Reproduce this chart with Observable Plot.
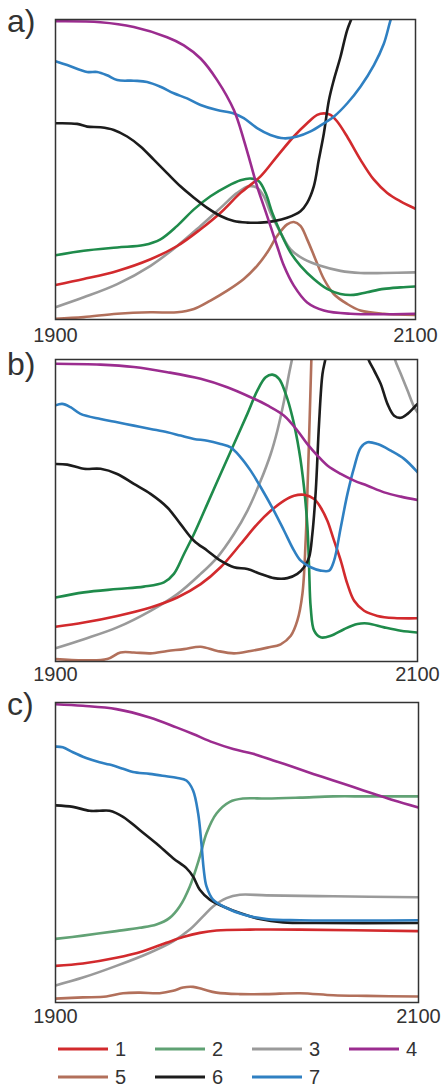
<!DOCTYPE html>
<html>
<head>
<meta charset="utf-8">
<script src="https://cdn.jsdelivr.net/npm/d3@7"></script>
<script src="https://cdn.jsdelivr.net/npm/@observablehq/plot@0.6"></script>
<style>
  html, body { margin: 0; padding: 0; background: #fff; }
  #chart { position: relative; width: 448px; height: 1087px; background: #fff;
           font-family: "Liberation Sans", Arial, sans-serif; color: #333; }
  .panel { position: absolute; left: 0; }
  .tag { position: absolute; left: 7px; font-size: 32px; line-height: 1; color: #333; }
  .legend { position: absolute; left: 58px; top: 1035px; display: grid;
            grid-template-columns: repeat(4, 97px); grid-auto-rows: 28px; }
  .legend .item { display: flex; align-items: center; font-size: 20px; }
  .legend svg { display: block; margin-right: 7px; }
</style>
</head>
<body>
<div id="chart"></div>
<script>
// Series ids and colours
const seriesNames = ["1", "2", "3", "4", "5", "6", "7"];
const colorsAB = ["#d22a2d", "#1f8b4b", "#9a9a9a", "#9b2c8f", "#b2705b", "#1c1c1c", "#2f80c2"];
const colorsC  = ["#d22a2d", "#62a275", "#9a9a9a", "#9b2c8f", "#b2705b", "#1c1c1c", "#2f80c2"];
const legendColors = ["#d22a2d", "#5fa173", "#9a9a9a", "#9b2c8f", "#b2705b", "#1c1c1c", "#2f80c2"];
const xTicks = [1900, 2100];
const panelTags = ["a)", "b)", "c)"];
// Lines are drawn in this order (last on top)
const drawOrder = ["5", "3", "2", "1", "6", "7", "4"];

// ---- panel a: [year, value] ----
const a1 = [[1900,11.5],[1915.7,13.5],[1934.3,16.2],[1952.8,20.1],[1967.6,24.5],[1980.6,30.1],[1991.7,35.6],[2002.8,42.2],[2013.9,47.7],[2023.1,54.4],[2032.4,61.0],[2039.8,65.4],[2045.4,68.2],[2049.1,68.7],[2052.8,68.2],[2056.5,66.0],[2062,61.0],[2069.4,53.3],[2076.9,46.6],[2084.3,42.2],[2091.7,39.4],[2100,36.9]];
const a2 = [[1900,21.4],[1915.7,22.9],[1934.3,24.0],[1949.1,24.8],[1958.3,26.7],[1967.6,31.2],[1976.9,36.7],[1986.1,41.1],[1995.4,44.4],[2002.8,46.4],[2008.3,47.0],[2013,46.1],[2016.7,42.2],[2020.4,35.6],[2025,29.0],[2030.6,22.3],[2036.1,17.9],[2043.5,13.5],[2050.9,10.2],[2058.3,8.5],[2065.7,8.2],[2073.1,9.1],[2082.4,10.2],[2091.7,10.7],[2100,11.0]];
const a3 = [[1900,4.1],[1915.7,7.4],[1934.3,11.8],[1952.8,17.9],[1967.6,24.5],[1980.6,31.2],[1991.7,37.2],[2000.9,42.2],[2007.4,44.4],[2012,43.9],[2015.7,41.1],[2019.4,35.6],[2025,29.0],[2030.6,23.4],[2038,20.1],[2047.2,17.9],[2058.3,16.2],[2069.4,15.5],[2082.4,15.5],[2100,15.7]];
const a4 = [[1900,99.4],[1925,99.1],[1943.5,97.5],[1962,94.1],[1971.3,91.4],[1980.6,87.0],[1989.8,79.8],[1999.1,69.8],[2004.6,59.9],[2008.3,52.2],[2012,44.4],[2015.7,37.8],[2019.4,31.2],[2023.1,24.5],[2026.9,17.9],[2032.4,11.3],[2039.8,5.7],[2049.1,3.0],[2063.9,1.9],[2100,1.9]];
const a5 = [[1900,0.2],[1915.7,0.8],[1934.3,1.9],[1952.8,2.4],[1967.6,2.4],[1976.9,3.5],[1986.1,6.3],[1995.4,9.6],[2004.6,13.5],[2012,17.9],[2017.6,22.3],[2023.1,27.8],[2028.7,31.7],[2032.4,32.5],[2036.1,31.2],[2039.8,26.7],[2044.4,20.1],[2049.1,13.5],[2054.6,8.5],[2062,5.2],[2069.4,3.0],[2082.4,1.9],[2100,1.5]];
const a6 = [[1900,65.4],[1912,65.2],[1917.6,64.3],[1925,64.1],[1932.4,63.2],[1939.8,61.0],[1947.2,57.7],[1954.6,53.3],[1962,48.8],[1969.4,44.4],[1976.9,40.6],[1984.3,37.2],[1991.7,34.5],[1999.1,32.8],[2006.5,32.3],[2013.9,32.3],[2021.3,32.8],[2028.7,33.9],[2036.1,36.1],[2039.8,38.9],[2043.5,44.4],[2046.3,53.3],[2049.1,62.1],[2051.9,73.1],[2054.6,79.8],[2058.3,87.5],[2062,96.4],[2064.8,100.8],[2068,106]];
const a7 = [[1900,86.1],[1906.5,84.8],[1917.6,82.5],[1923.1,82.5],[1928.7,81.4],[1934.3,79.8],[1943.5,79.6],[1950.9,79.2],[1958.3,77.6],[1965.7,75.4],[1973.1,73.7],[1980.6,71.5],[1989.8,69.8],[1999.1,68.7],[2004.6,67.1],[2012,63.8],[2019.4,61.5],[2026.9,60.4],[2034.3,61.0],[2041.7,62.7],[2049.1,65.4],[2054.6,67.6],[2062,72.0],[2069.4,77.6],[2076.9,84.8],[2082.4,91.9],[2086.1,99.7],[2090,107]];

// ---- panel b ----
const b1 = [[1900,11.5],[1915.7,12.9],[1934.1,15.1],[1952.5,17.9],[1967.3,21.2],[1980.2,25.6],[1991.2,31.2],[2002.3,38.9],[2011.5,45.5],[2018.9,49.9],[2026.3,53.3],[2031.8,54.9],[2037.3,55.2],[2042.9,53.8],[2046.5,51.0],[2050.2,46.6],[2053.9,40.0],[2057.6,33.4],[2061.3,25.6],[2065,20.1],[2070.5,16.8],[2077.9,15.1],[2087.1,14.4],[2100,14.3]];
const b2 = [[1900,21.2],[1915.7,22.9],[1934.1,24.0],[1948.8,24.8],[1959.9,26.2],[1965.4,29.0],[1971,35.6],[1976.5,42.2],[1983.9,52.2],[1991.2,62.1],[1998.6,72.0],[2006,82.0],[2011.5,89.7],[2016.1,94.1],[2019.8,95.0],[2023.5,93.6],[2027.2,88.6],[2030.9,80.9],[2034.6,69.8],[2037.3,57.7],[2039.2,44.4],[2040.1,31.2],[2041,17.9],[2042.9,10.2],[2046.5,8.0],[2052.1,8.5],[2059.4,10.7],[2066.8,12.4],[2072.4,12.6],[2081.6,11.3],[2090.8,10.2],[2100,9.6]];
const b3 = [[1900,4.4],[1915.7,7.4],[1934.1,11.3],[1952.5,16.8],[1967.3,22.3],[1980.2,29.0],[1989.4,34.5],[1998.6,42.2],[2006,49.9],[2013.4,59.9],[2018.9,68.7],[2022.6,76.5],[2026.3,86.4],[2029,95.2],[2030.9,100.8],[2034,112],[2060,180],[2084,112],[2087.1,100.8],[2090.8,95.2],[2094.5,89.7],[2098.2,84.2],[2100,82.5]];
const b4 = [[1900,98.6],[1924.9,98.3],[1943.3,97.5],[1961.8,95.8],[1980.2,93.6],[1994.9,90.8],[2007.8,87.5],[2017.1,84.8],[2026.3,81.4],[2033.6,76.5],[2039.2,72.0],[2044.7,68.2],[2050.2,64.9],[2057.6,62.1],[2065,59.9],[2072.4,58.2],[2081.6,56.0],[2090.8,54.6],[2100,53.5]];
const b5 = [[1900,0.8],[1915.7,0.4],[1928.6,0.8],[1935.9,3.0],[1943.3,3.0],[1952.5,2.7],[1961.8,3.5],[1971,4.1],[1980.2,4.9],[1989.4,3.5],[1998.6,2.7],[2007.8,3.5],[2017.1,4.6],[2024.4,5.7],[2030,8.5],[2033.6,13.5],[2036.4,22.3],[2038.2,40.0],[2039.5,62.1],[2040.6,84.2],[2041.4,100.8],[2042,115]];
const b6 = [[1900,65.4],[1906.5,65.2],[1915.7,63.8],[1924.9,63.8],[1934.1,62.1],[1943.3,58.8],[1952.5,55.5],[1961.8,51.0],[1969.1,45.5],[1976.5,40.0],[1983.9,36.7],[1991.2,33.4],[1998.6,31.2],[2006,30.6],[2013.4,29.0],[2020.7,27.6],[2028.1,27.6],[2033.6,29.0],[2037.3,31.2],[2040.1,34.5],[2041.9,42.2],[2043.8,56.6],[2045.6,78.7],[2047.5,95.2],[2049.3,100.8],[2051,110],[2060,140],[2070,110],[2072.4,100.8],[2076,96.4],[2079.7,91.9],[2083.4,85.3],[2087.1,81.4],[2090.8,80.7],[2094.5,82.0],[2098.2,84.2],[2100,85.3]];
const b7 = [[1900,84.8],[1903.7,85.3],[1908.3,84.2],[1913.8,82.0],[1924.9,80.3],[1934.1,79.2],[1943.3,78.1],[1952.5,77.0],[1961.8,75.9],[1969.1,74.8],[1976.5,73.7],[1983.9,73.1],[1991.2,72.0],[1996.8,70.9],[2002.3,67.6],[2007.8,63.2],[2013.4,57.7],[2020.7,49.9],[2026.3,43.3],[2031.8,36.7],[2035.5,33.4],[2041,31.2],[2046.5,30.1],[2051.2,30.1],[2053.9,33.4],[2057.6,44.4],[2061.3,55.5],[2065,64.3],[2068.7,70.9],[2072.4,72.6],[2077.9,72.0],[2085.3,69.8],[2092.6,67.1],[2100,62.7]];

// ---- panel c ----
const c1 = [[1900,12.2],[1915.1,13.0],[1933.5,14.9],[1948.2,17.1],[1961.1,19.9],[1970.3,21.8],[1979.5,23.2],[1988.7,24.0],[2007.1,24.3],[2034.7,24.3],[2100,23.8]];
const c2 = [[1900,21.2],[1915.1,22.3],[1933.5,23.8],[1946.4,24.9],[1955.6,26.0],[1962.9,28.2],[1968.4,32.0],[1974,38.7],[1979.5,48.6],[1983.2,56.4],[1988.7,63.0],[1996,66.9],[2003.4,68.0],[2016.3,68.0],[2034.7,68.3],[2053.1,68.7],[2071.5,68.7],[2100,68.7]];
const c3 = [[1900,5.7],[1915.1,8.3],[1933.5,12.2],[1951.9,16.6],[1964.8,20.4],[1974,24.3],[1981.3,28.7],[1986.8,32.0],[1994.2,34.8],[2001.6,35.9],[2016.3,35.7],[2053.1,35.4],[2100,35.1]];
const c4 = [[1900,99.4],[1915.1,98.9],[1933.5,97.8],[1951.9,95.0],[1966.6,91.7],[1975.8,89.5],[1986.8,86.7],[1997.9,84.5],[2008.9,82.9],[2020,80.7],[2031,78.5],[2042,76.2],[2053.1,74.0],[2064.1,71.8],[2075.2,69.6],[2086.2,67.4],[2100,65.0]];
const c5 = [[1900,1.3],[1915.1,1.7],[1928,2.0],[1937.2,3.1],[1946.4,3.3],[1957.4,3.1],[1964.8,3.9],[1970.3,5.0],[1975.8,5.2],[1981.3,4.4],[1988.7,3.3],[2001.6,2.8],[2016.3,2.8],[2034.7,3.1],[2053.1,2.4],[2071.5,2.2],[2100,2.0]];
const c6 = [[1900,65.7],[1909.6,65.2],[1918.8,63.9],[1924.3,63.9],[1929.8,63.9],[1937.2,61.9],[1946.4,57.5],[1955.6,53.0],[1964.8,48.1],[1972.1,44.8],[1975.8,42.0],[1979.5,37.6],[1985,34.3],[1992.4,32.0],[2001.6,29.8],[2012.6,27.8],[2025.5,26.7],[2043.9,26.5],[2100,26.5]];
const c7 = [[1900,85.3],[1904,85.1],[1909.6,83.4],[1916.9,81.5],[1924.3,80.1],[1929.8,79.3],[1937.2,77.9],[1942.7,76.8],[1951.9,76.2],[1961.1,75.4],[1966.6,74.9],[1972.1,74.0],[1975.8,70.7],[1978.6,63.0],[1980.4,53.0],[1981.7,44.2],[1983.2,38.7],[1986.8,34.3],[1994.2,31.5],[2003.4,29.3],[2016.3,27.8],[2034.7,27.4],[2100,27.4]];

const panelSeries = [
  [a1, a2, a3, a4, a5, a6, a7],
  [b1, b2, b3, b4, b5, b6, b7],
  [c1, c2, c3, c4, c5, c6, c7]
];

// Long-format rows, ordered so that later series paint on top
function toRows(list) {
  const rows = [];
  for (const name of drawOrder) {
    const pts = list[seriesNames.indexOf(name)];
    for (const [year, value] of pts) rows.push({series: name, year, value});
  }
  return rows;
}

// Layout of the three stacked panels
const layout = [
  {top: 0,   height: 349, marginTop: 19, marginBottom: 30, marginRight: 33, pad: 8, tagTop: 5,   colors: colorsAB},
  {top: 340, height: 350, marginTop: 19, marginBottom: 29, marginRight: 31, pad: 5, tagTop: 348, colors: colorsAB},
  {top: 680, height: 352, marginTop: 22, marginBottom: 30, marginRight: 30, pad: 6, tagTop: 688, colors: colorsC}
];

const chart = document.getElementById("chart");

layout.forEach((L, i) => {
  const svg = Plot.plot({
    width: 448,
    height: L.height,
    marginTop: L.marginTop,
    marginBottom: L.marginBottom,
    marginLeft: 55,
    marginRight: L.marginRight,
    style: {background: "transparent", overflow: "visible", fontFamily: "'Liberation Sans', Arial, sans-serif", fontSize: "20px", color: "#333"},
    x: {domain: [1900, 2100], label: null},
    y: {domain: [0, 100], axis: null},
    color: {domain: seriesNames, range: L.colors},
    marks: [
      Plot.line(toRows(panelSeries[i]), {
        x: "year", y: "value", z: "series", stroke: "series",
        strokeWidth: 2.6, curve: "catmull-rom", clip: true
      }),
      Plot.frame({stroke: "#333", strokeWidth: 1.5}),
      Plot.axisX({ticks: xTicks, tickSize: 0, tickPadding: L.pad, tickFormat: d => String(d),
                  fontSize: 20, fill: "#333", label: null})
    ]
  });
  const wrap = document.createElement("div");
  wrap.className = "panel";
  wrap.style.top = L.top + "px";
  wrap.appendChild(svg);
  chart.appendChild(wrap);

  const tag = document.createElement("div");
  tag.className = "tag";
  tag.style.top = L.tagTop + "px";
  tag.textContent = panelTags[i];
  chart.appendChild(tag);
});

// Legend
const legend = document.createElement("div");
legend.className = "legend";
seriesNames.forEach((name, i) => {
  const item = document.createElement("div");
  item.className = "item";
  item.innerHTML = `<svg width="50" height="6"><line x1="0" x2="50" y1="3" y2="3" stroke="${legendColors[i]}" stroke-width="3"/></svg><span>${name}</span>`;
  legend.appendChild(item);
});
chart.appendChild(legend);
</script>
</body>
</html>
